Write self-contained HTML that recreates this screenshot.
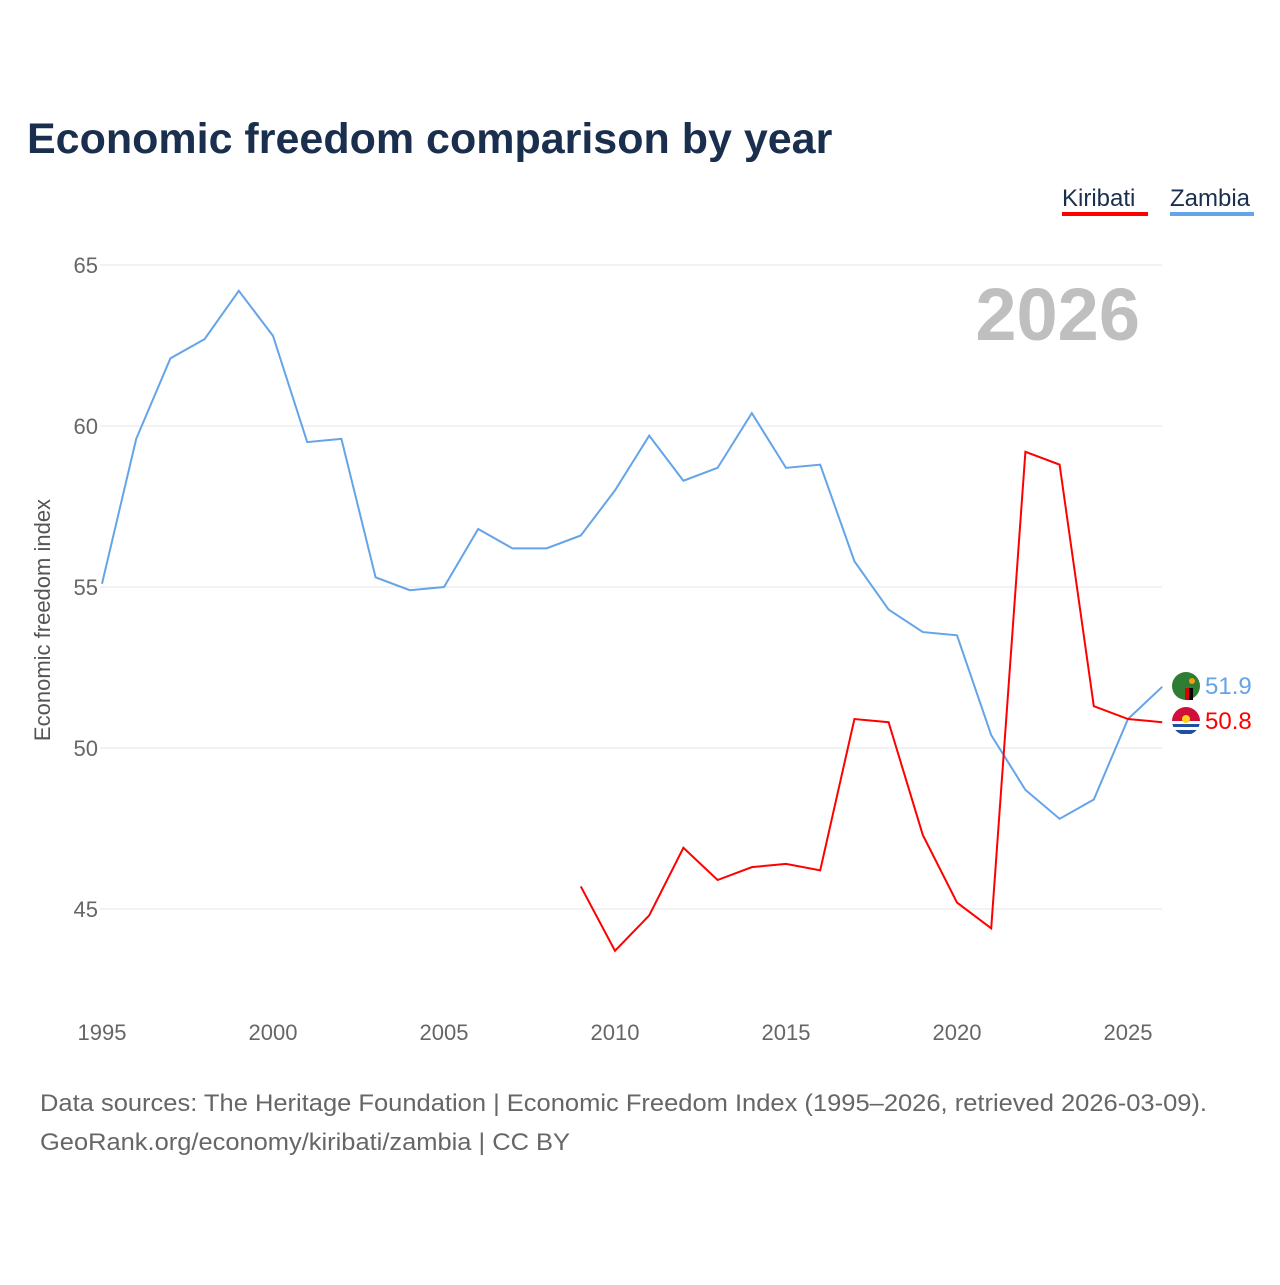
<!DOCTYPE html>
<html><head><meta charset="utf-8">
<style>
body{margin:0;background:#fff;font-family:"Liberation Sans",sans-serif;}
svg text{font-family:"Liberation Sans",sans-serif;}
</style></head>
<body>
<svg width="1280" height="1280" viewBox="0 0 1280 1280">
<text x="27" y="153" font-size="43" font-weight="bold" fill="#1a2e4e">Economic freedom comparison by year</text>
<g>
<text x="1062" y="206" font-size="24" fill="#1a2e4e">Kiribati</text>
<rect x="1062" y="212" width="86" height="4" fill="#ff0000"/>
<text x="1170" y="206" font-size="24" fill="#1a2e4e">Zambia</text>
<rect x="1170" y="212" width="84" height="4" fill="#64a4e8"/>
</g>
<text x="1140" y="340" font-size="74" font-weight="bold" fill="#bfbfbf" text-anchor="end">2026</text>
<g id="grid"></g>
<g id="xt"></g>
<text transform="translate(50,620) rotate(-90)" font-size="22" fill="#555" text-anchor="middle">Economic freedom index</text>
<g id="lines"></g>
<g>
<g>
<circle cx="1186" cy="686" r="14" fill="#2e7d32"/><rect x="1185" y="688" width="4" height="12" fill="#d00"/><rect x="1189" y="688" width="4" height="12" fill="#000"/><circle cx="1192" cy="681" r="3" fill="#f39c12"/>
</g>
<g>
<clipPath id="kc"><circle cx="1186" cy="721" r="14"/></clipPath>
<g clip-path="url(#kc)"><rect x="1172" y="707" width="28" height="14" fill="#d0103a"/><rect x="1172" y="721" width="28" height="14" fill="#fff"/><rect x="1172" y="724" width="28" height="3" fill="#1e4fa0"/><rect x="1172" y="730" width="28" height="4" fill="#1e4fa0"/><circle cx="1186" cy="719" r="4" fill="#fcd116"/></g>
</g>
<text x="1205" y="694" font-size="24" fill="#64a4e8">51.9</text>
<text x="1205" y="729" font-size="24" fill="#ff0000">50.8</text>
</g>
<text x="40" y="1111" font-size="24" fill="#666" textLength="1167" lengthAdjust="spacingAndGlyphs">Data sources: The Heritage Foundation | Economic Freedom Index (1995–2026, retrieved 2026-03-09).</text>
<text x="40" y="1150" font-size="24" fill="#666" textLength="530" lengthAdjust="spacingAndGlyphs">GeoRank.org/economy/kiribati/zambia | CC BY</text>
</svg>
<script>
const yTicks=[45,50,55,60,65];
const xTicks=[1995,2000,2005,2010,2015,2020,2025];
const zambiaYears=[1995,1996,1997,1998,1999,2000,2001,2002,2003,2004,2005,2006,2007,2008,2009,2010,2011,2012,2013,2014,2015,2016,2017,2018,2019,2020,2021,2022,2023,2024,2025,2026];
const zambiaValues=[55.1,59.6,62.1,62.7,64.2,62.8,59.5,59.6,55.3,54.9,55.0,56.8,56.2,56.2,56.6,58.0,59.7,58.3,58.7,60.4,58.7,58.8,55.8,54.3,53.6,53.5,50.4,48.7,47.8,48.4,50.9,51.9];
const kiribatiYears=[2009,2010,2011,2012,2013,2014,2015,2016,2017,2018,2019,2020,2021,2022,2023,2024,2025,2026];
const kiribatiValues=[45.7,43.7,44.8,46.9,45.9,46.3,46.4,46.2,50.9,50.8,47.3,45.2,44.4,59.2,58.8,51.3,50.9,50.8];
const NS='http://www.w3.org/2000/svg';
const xS=y=>102+(y-1995)*34.2;
const yS=v=>265+(65-v)*32.2;
const grid=document.getElementById('grid');
yTicks.forEach(t=>{
 const l=document.createElementNS(NS,'line');
 l.setAttribute('x1',100);l.setAttribute('x2',1162);l.setAttribute('y1',yS(t));l.setAttribute('y2',yS(t));
 l.setAttribute('stroke','#e6e6e6');
 
 
 grid.appendChild(l);
 const tx=document.createElementNS(NS,'text');
 tx.setAttribute('x',98);tx.setAttribute('y',yS(t)+8);tx.setAttribute('text-anchor','end');
 tx.setAttribute('font-size','22');tx.setAttribute('fill','#666');tx.textContent=t;
 
 
 grid.appendChild(tx);
});
const xt=document.getElementById('xt');
xTicks.forEach(t=>{
 const tx=document.createElementNS(NS,'text');
 tx.setAttribute('x',xS(t));tx.setAttribute('y',1040);tx.setAttribute('text-anchor','middle');
 tx.setAttribute('font-size','22');tx.setAttribute('fill','#666');tx.textContent=t;
 
 
 xt.appendChild(tx);
});
const lines=document.getElementById('lines');
function line(xs,vs,color,name){
 const p=document.createElementNS(NS,'polyline');
 p.setAttribute('points',xs.map((x,i)=>xS(x)+','+yS(vs[i])).join(' '));
 p.setAttribute('fill','none');p.setAttribute('stroke',color);p.setAttribute('stroke-width','2');
 
 
 lines.appendChild(p);
}
line(zambiaYears,zambiaValues,'#64a4e8','zambia-line');
line(kiribatiYears,kiribatiValues,'#ff0000','kiribati-line');
</script>
</body></html>
